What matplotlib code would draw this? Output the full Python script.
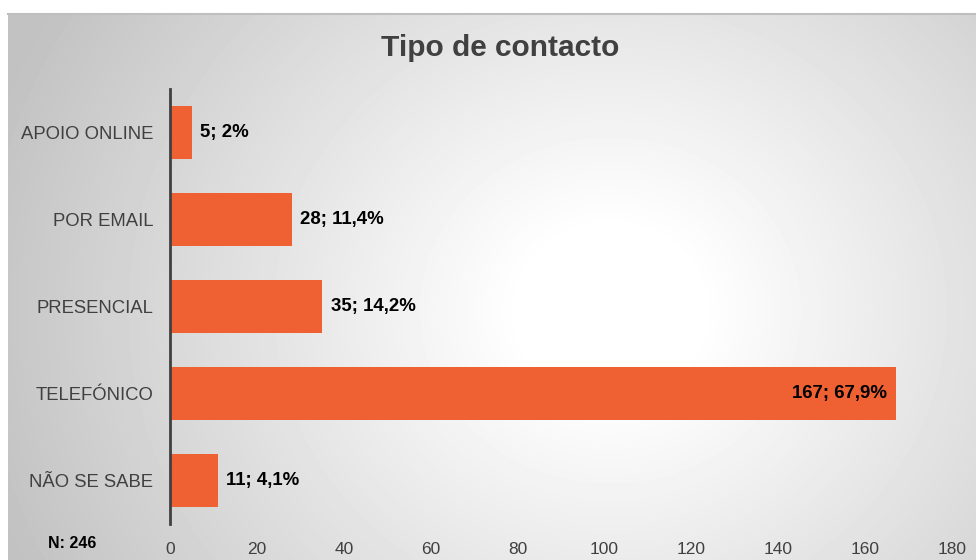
import matplotlib.pyplot as plt
import numpy as np

categories = ["APOIO ONLINE", "POR EMAIL", "PRESENCIAL", "TELEFÓNICO", "NÃO SE SABE"]
values = [5, 28, 35, 167, 11]
labels = ["5; 2%", "28; 11,4%", "35; 14,2%", "167; 67,9%", "11; 4,1%"]

W, H = 976, 560
fig = plt.figure(figsize=(W / 100, H / 100), dpi=100)
fig.patch.set_facecolor("white")

# * radial gradient background
bg = fig.add_axes([0, 0, 1, 1], zorder=0)
bg.set_xlim(0, W)
bg.set_ylim(H, 0)
bg.axis("off")
xx, yy = np.meshgrid(np.arange(8, W), np.arange(13, H))
d = np.hypot(xx - 610, (yy - 310) * 1.1)
g = 1 - np.clip((d - 90) / 560, 0, 1) * 0.24
bg.imshow(g, cmap="gray", vmin=0, vmax=1, extent=(8, W, H, 13), aspect="auto")
bg.plot([8, W], [13.5, 13.5], color="#bfbfbf", lw=1.5)

ax = fig.add_axes([170 / W, 1 - 523.5 / H, 782 / W, 434 / H], zorder=1)
ax.patch.set_alpha(0)
y = np.arange(len(categories))
bars = ax.barh(y, values, height=0.61, color="#EF6133")
ax.set_ylim(len(categories) - 0.5, -0.5)
ax.set_xlim(0, 180)
ax.set_xticks(range(0, 181, 20))
ax.set_yticks(y)
ax.set_yticklabels(categories)
for s in ["top", "right", "bottom"]:
    ax.spines[s].set_visible(False)
ax.spines["left"].set_color("#404040")
ax.spines["left"].set_linewidth(2)
ax.tick_params(axis="both", length=0, colors="#404040")
ax.tick_params(axis="x", pad=13, labelsize=12.5)
ax.tick_params(axis="y", pad=12, labelsize=13.3)
for t in ax.get_xticklabels() + ax.get_yticklabels():
    t.set_fontfamily("Liberation Sans")

for i, (v, lab) in enumerate(zip(values, labels)):
    if v > 100:
        ax.text(v - 2, i, lab, ha="right", va="center", fontsize=13.4,
                fontweight="bold", family="Liberation Sans", color="black")
    else:
        ax.text(v + 2, i, lab, ha="left", va="center", fontsize=13.4,
                fontweight="bold", family="Liberation Sans", color="black")

fig.text(500 / W, 1 - 48 / H, "Tipo de contacto", ha="center", va="center",
         fontsize=21.5, fontweight="bold", family="Liberation Sans",
         color="#404040")
fig.text(48 / W, 1 - 543 / H, "N: 246", ha="left", va="center", fontsize=11.5,
         fontweight="bold", family="Liberation Sans", color="black")

fig.savefig("out.png", dpi=100)
